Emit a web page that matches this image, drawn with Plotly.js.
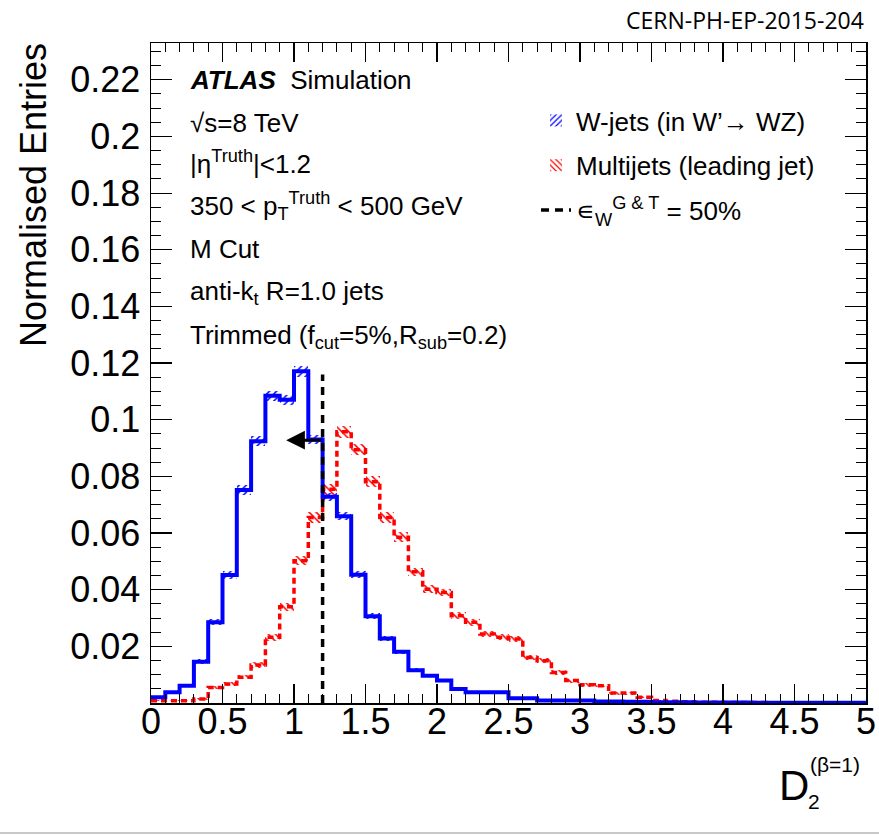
<!DOCTYPE html>
<html><head><meta charset="utf-8">
<script src="https://cdn.plot.ly/plotly-3.0.1.min.js"></script>
<style>html,body{margin:0;padding:0;background:#fff}#chart{width:879px;height:836px}</style>
</head><body><div id="chart"></div>
<script>
// ---- data ----
const binEdges = [0.0,0.1,0.2,0.3,0.4,0.5,0.6,0.7,0.8,0.9,1.0,1.1,1.2,1.3,1.4,1.5,1.6,1.7,1.8,1.9,2.0,
  2.1,2.2,2.3,2.4,2.5,2.6,2.7,2.8,2.9,3.0,3.1,3.2,3.3,3.4,3.5,3.6,3.7,3.8,3.9,4.0,
  4.1,4.2,4.3,4.4,4.5,4.6,4.7,4.8,4.9,5.0];
const wjets = [0.0020,0.0038,0.0061,0.0146,0.0285,0.0452,0.0752,0.0924,0.1085,0.1071,
  0.1171,0.0930,0.0728,0.0659,0.0453,0.0306,0.0228,0.0181,0.0116,0.0096,
  0.0079,0.0049,0.0038,0.0038,0.0038,0.0017,0.0017,0.0009,0.0009,0.0009,
  0.0009,0.0005,0.0005,0.0004,0.0004,0.0003,0.0003,0.0003,0.0002,0.0002,
  0.0002,0.0002,0.0001,0.0001,0.0001,0.0001,0.0001,0.0001,0.0001,0.0001];
const wjetsErr = [0.0003,0.0004,0.0005,0.0008,0.0011,0.0013,0.0016,0.0017,0.0018,0.0018,
  0.0019,0.0017,0.0015,0.0014,0.0012,0.0010,0.0008,0.0007,0.0006,0.0005,
  0.0005,0.0004,0.0003,0.0003,0.0003,0.0002,0.0002,0.0002,0.0002,0.0002,
  0.0001,0.0001,0.0001,0.0001,0.0001,0.0001,0.0001,0.0001,0.0001,0.0001,
  0.0001,0.0001,0.0001,0.0001,0.0001,0.0001,0.0001,0.0001,0.0001,0.0001];
const multijets = [0.0008,0.0008,0.0008,0.0014,0.0055,0.0067,0.0091,0.0134,0.0232,0.0340,
  0.0502,0.0655,0.0755,0.0958,0.0894,0.0781,0.0655,0.0585,0.0463,0.0402,
  0.0390,0.0308,0.0285,0.0244,0.0232,0.0226,0.0161,0.0149,0.0108,0.0079,
  0.0064,0.0061,0.0035,0.0035,0.0020,0.0009,0.0006,0.0004,0.0003,0.0003,
  0.0002,0.0002,0.0002,0.0001,0.0001,0.0001,0.0001,0.0001,0.0001,0.0001];
const multijetsErr = [0.0002,0.0002,0.0002,0.0003,0.0006,0.0007,0.0008,0.0010,0.0012,0.0014,
  0.0016,0.0018,0.0019,0.0021,0.0020,0.0019,0.0018,0.0017,0.0015,0.0014,
  0.0014,0.0013,0.0012,0.0011,0.0011,0.0011,0.0009,0.0009,0.0008,0.0007,
  0.0006,0.0006,0.0005,0.0005,0.0004,0.0003,0.0002,0.0002,0.0002,0.0002,
  0.0002,0.0002,0.0002,0.0002,0.0002,0.0002,0.0002,0.0002,0.0002,0.0002];
const cutValue = 1.2;        // D2 cut giving 50% W efficiency
const cutLineTop = 0.116;
const arrowTip = 0.945;
const arrowLevel = 0.0928;
const xTickVals = [0,0.5,1,1.5,2,2.5,3,3.5,4,4.5,5];
const xTickText = ['0','0.5','1','1.5','2','2.5','3','3.5','4','4.5','5'];
const yTickVals = [0.02,0.04,0.06,0.08,0.1,0.12,0.14,0.16,0.18,0.2,0.22];
const yTickText = ['0.02','0.04','0.06','0.08','0.1','0.12','0.14','0.16','0.18','0.2','0.22'];
const labelW = 'W-jets (in W’→ WZ)';
const labelM = 'Multijets (leading jet)';
const labelCut = '∊<sub>W</sub><sup>G &amp; T</sup> = 50%';

// ---- derived ----
const centres = binEdges.slice(0,-1).map((e,i)=>(e+binEdges[i+1])/2);
const widths = binEdges.slice(0,-1).map((e,i)=>binEdges[i+1]-e);
const stepY = v => v.concat([v[v.length-1]]);

const FONT = 'Liberation Sans, Arial, Helvetica, sans-serif';

const traces = [
  {type:'bar', x:centres, width:widths, base:wjets.map((v,i)=>v-wjetsErr[i]), y:wjetsErr.map(e=>2*e),
   name:labelW, legendgroup:'a',
   marker:{color:'rgba(0,0,0,0)', line:{width:0}, pattern:{shape:'/', fgcolor:'#0000ff', bgcolor:'rgba(0,0,0,0)', size:5, solidity:0.3}},
   hoverinfo:'skip'},
  {type:'bar', x:centres, width:widths, base:multijets.map((v,i)=>v-multijetsErr[i]), y:multijetsErr.map(e=>2*e),
   name:labelM, legendgroup:'b',
   marker:{color:'rgba(0,0,0,0)', line:{width:0}, pattern:{shape:'\\', fgcolor:'#ff0000', bgcolor:'rgba(0,0,0,0)', size:5, solidity:0.3}},
   hoverinfo:'skip'},
  {type:'scatter', mode:'lines', x:binEdges, y:stepY(multijets), line:{shape:'hv', color:'#ff0000', width:3.5, dash:'6px,4px'},
   showlegend:false, legendgroup:'b'},
  {type:'scatter', mode:'lines', x:binEdges, y:stepY(wjets), line:{shape:'hv', color:'#0000ff', width:4},
   showlegend:false, legendgroup:'a'},
  {type:'scatter', mode:'lines', x:[cutValue,cutValue], y:[0,cutLineTop], name:labelCut, legendgroup:'c',
   line:{color:'#000000', width:3.5, dash:'8px,6px'}}
];

const PL=151, PR=866, PT=43, PB=703;
const px = x => (x-PL)/(PR-PL);
const py = y => (PB-y)/(PB-PT);

const textLines = [
  ['<b><i>ATLAS</i></b>&nbsp; Simulation', 80],
  ['√s=8 TeV', 123],
  ['|η<sup>Truth</sup>|&lt;1.2', 162],
  ['350 &lt; p<sub>T</sub><sup>Truth</sup> &lt; 500 GeV', 206],
  ['M Cut', 249],
  ['anti-k<sub>t</sub> R=1.0 jets', 292],
  ['Trimmed (f<sub>cut</sub>=5%,R<sub>sub</sub>=0.2)', 336]
];
const annotations = textLines.map(([t,y])=>({xref:'paper', yref:'paper', x:px(188), y:py(y), xanchor:'left', yanchor:'middle',
  text:t, showarrow:false, font:{family:FONT, size:26, color:'#000'}}));

annotations.push(
  {xref:'x', yref:'y', x:arrowTip, y:arrowLevel, ax:cutValue, ay:arrowLevel, axref:'x', ayref:'y',
   showarrow:true, arrowhead:2, arrowsize:1.25, arrowwidth:3, arrowcolor:'#000', text:''},
  {xref:'paper', yref:'paper', x:px(33), y:py(195), xanchor:'center', yanchor:'middle', textangle:-90,
   text:'Normalised Entries', showarrow:false, font:{family:FONT, size:36, color:'#000'}},
  {xref:'paper', yref:'paper', x:px(777), y:py(785), xanchor:'left', yanchor:'middle',
   text:'D', showarrow:false, font:{family:FONT, size:42, color:'#000'}},
  {xref:'paper', yref:'paper', x:px(806), y:py(802), xanchor:'left', yanchor:'middle',
   text:'2', showarrow:false, font:{family:FONT, size:21, color:'#000'}},
  {xref:'paper', yref:'paper', x:px(808), y:py(764), xanchor:'left', yanchor:'middle',
   text:'(β=1)', showarrow:false, font:{family:FONT, size:21, color:'#000'}},
  {xref:'paper', yref:'paper', x:px(866), y:py(20), xanchor:'right', yanchor:'middle',
   text:'CERN-PH-EP-2015-204', showarrow:false, font:{family:'Open Sans, Noto Sans, sans-serif', size:23, color:'#000'}}
);

const layout = {
  width:879, height:836,
  margin:{l:PL, r:879-PR, t:PT, b:836-PB, pad:0},
  paper_bgcolor:'#fff', plot_bgcolor:'#fff',
  font:{family:FONT, color:'#000'},
  barmode:'overlay', bargap:0,
  showlegend:true,
  legend:{x:px(536), y:py(97), xanchor:'left', yanchor:'top', bgcolor:'rgba(0,0,0,0)',
    font:{family:FONT, size:26, color:'#000'}, traceorder:'grouped', tracegroupgap:8, itemwidth:30},
  xaxis:{range:[0,5], showline:true, linecolor:'#000', linewidth:1.5, mirror:'ticks',
    tickmode:'array', tickvals:xTickVals, ticktext:xTickText, ticks:'inside', ticklen:19, tickwidth:1.2, tickcolor:'#000',
    minor:{tickmode:'linear', tick0:0, dtick:0.1, ticks:'inside', ticklen:9, tickwidth:1, tickcolor:'#000', showgrid:false},
    showgrid:false, zeroline:false, tickfont:{family:FONT, size:36, color:'#000'}, ticklabelstandoff:-14},
  yaxis:{range:[0,0.233], showline:true, linecolor:'#000', linewidth:1.5, mirror:'ticks',
    tickmode:'array', tickvals:yTickVals, ticktext:yTickText, ticks:'inside', ticklen:21, tickwidth:1.2, tickcolor:'#000',
    minor:{tickmode:'linear', tick0:0, dtick:0.005, ticks:'inside', ticklen:10, tickwidth:1, tickcolor:'#000', showgrid:false},
    showgrid:false, zeroline:false, tickfont:{family:FONT, size:36, color:'#000'}, ticklabelstandoff:2},
  annotations:annotations,
  shapes:[{type:'line', xref:'paper', yref:'paper', x0:px(0), x1:px(879), y0:py(833), y1:py(833), line:{color:'#c8c8c8', width:2}}]
};

Plotly.newPlot('chart', traces, layout, {displayModeBar:false, staticPlot:true});
</script>
</body></html>
